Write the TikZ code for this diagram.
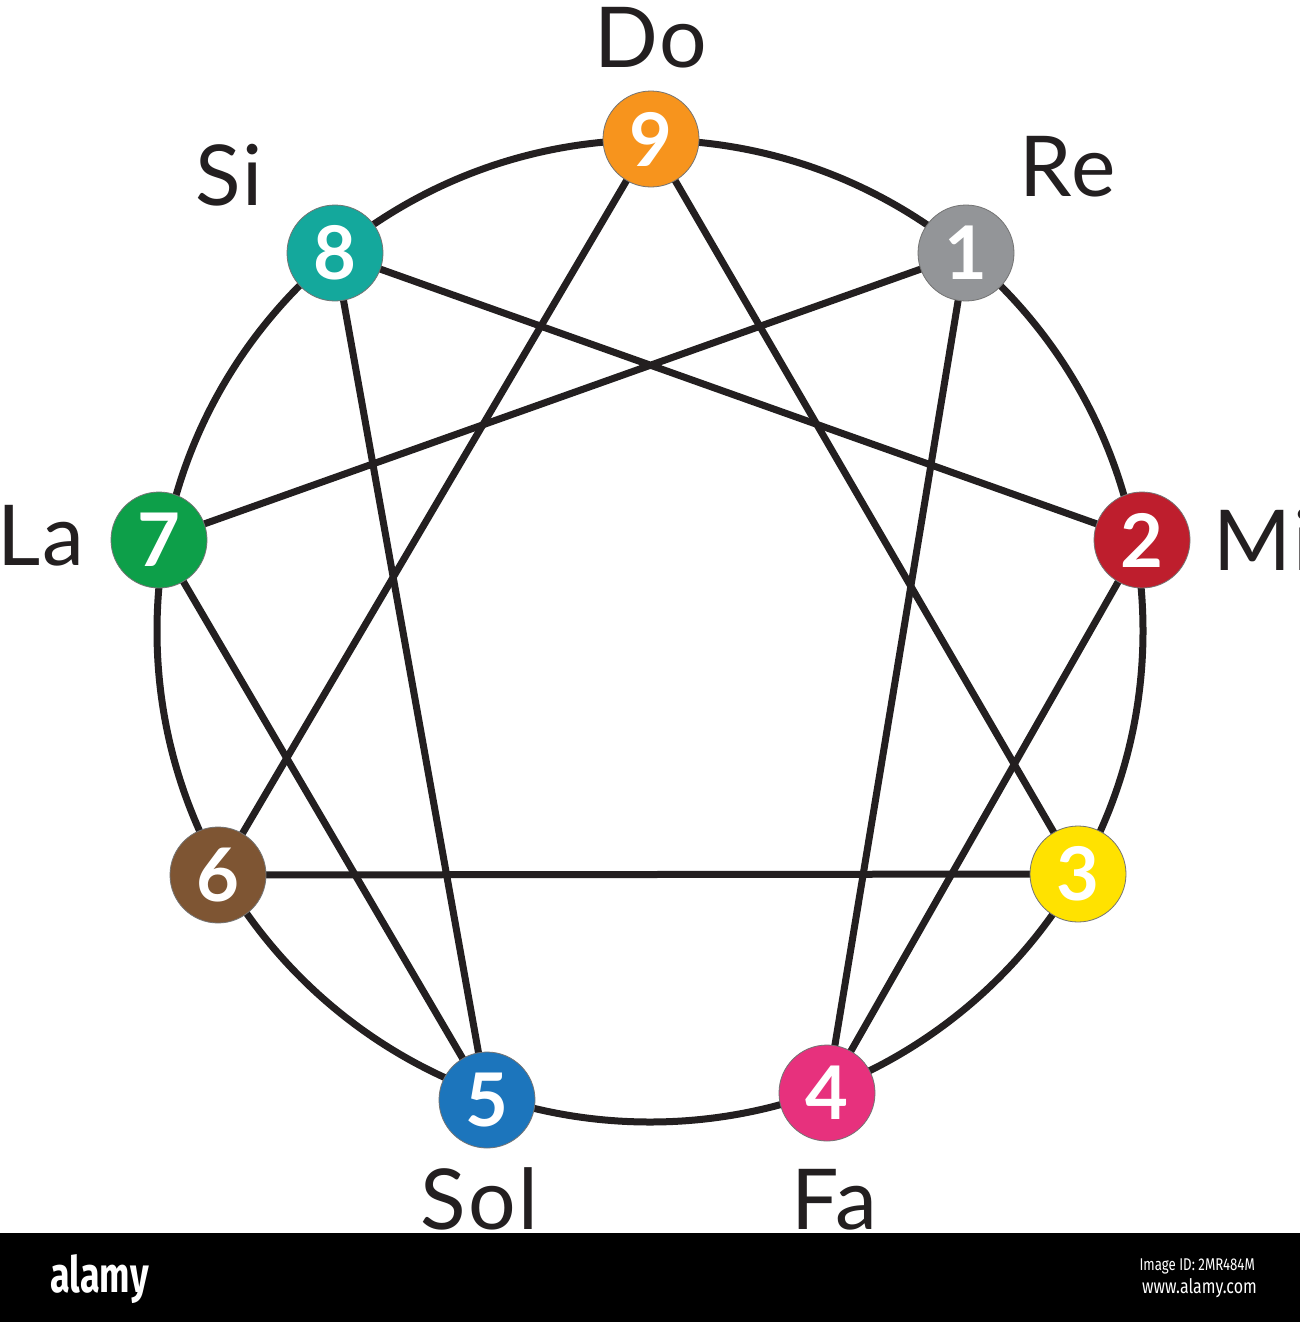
\documentclass[tikz,border=0pt]{standalone}
\usepackage{fontspec}
\usepackage{graphicx}
\setmainfont{Lato}
\newfontfamily\numfont[Scale=1]{Lato}
\newfontfamily\logofont{Fira Sans}
\usetikzlibrary{backgrounds}
\definecolor{ink}{HTML}{231F20}
\definecolor{c9}{HTML}{F7941D}
\definecolor{c1}{HTML}{939598}
\definecolor{c2}{HTML}{BE1E2D}
\definecolor{c3}{HTML}{FFE200}
\definecolor{c4}{HTML}{E7317D}
\definecolor{c5}{HTML}{1C75BC}
\definecolor{c6}{HTML}{7E5533}
\definecolor{c7}{HTML}{0D9F49}
\definecolor{c8}{HTML}{14A89C}
\tikzset{
  num/.style={circle, minimum size=96pt, inner sep=0pt, draw=black!55, line width=0.8pt,
    text=white, font=\numfont\bfseries\fontsize{74}{74}\selectfont},
  link/.style={draw=ink, line width=7pt},
  lab/.style={anchor=base west, inner sep=0pt, text=ink, font=\fontsize{84}{84}\selectfont},
}
\begin{document}
\begin{tikzpicture}[x=1pt,y=-1pt]
\useasboundingbox (0,0) rectangle (1300,1322);
% numbered nodes
\node[num, fill=c9] (n9) at (651,139) {9};
\node[num, fill=c1] (n1) at (966,253) {1};
\node[num, fill=c2] (n2) at (1142,540) {2};
\node[num, fill=c3] (n3) at (1078,874) {3};
\node[num, fill=c4] (n4) at (827,1093) {4};
\node[num, fill=c5] (n5) at (487,1100) {5};
\node[num, fill=c6] (n6) at (218,875) {6};
\node[num, fill=c7] (n7) at (159,540) {7};
\node[num, fill=c8] (n8) at (335,253) {8};
\coordinate (ctr) at (650,631);
\begin{scope}[on background layer]
  \fill[white] (0,0) rectangle (1300,1322);
  \draw[link] (ctr) circle [x radius=493pt, y radius=491pt];
  \draw[link] (n9.center) -- (n3.center) -- (n6.center) -- cycle;
  \draw[link] (n1.center) -- (n4.center) -- (n2.center) -- (n8.center) -- (n5.center) -- (n7.center) -- cycle;
\end{scope}
% note labels
\node[lab, anchor=base] (tDo) at (651,67) {\addfontfeature{LetterSpace=2}Do};
\node[lab] (tRe) at (1019,196) {\addfontfeature{LetterSpace=3}Re};
\node[lab] (tSi) at (195,205) {\addfontfeature{LetterSpace=3}Si};
\node[lab] (tLa) at (-3,565) {\addfontfeature{LetterSpace=3}La};
\node[lab] (tMi) at (1213,570) {\addfontfeature{LetterSpace=3}Mi};
\node[lab] (tSol) at (420,1229) {\addfontfeature{LetterSpace=3}Sol};
\node[lab] (tFa) at (791,1229) {\addfontfeature{LetterSpace=3}Fa};
% bottom banner
\fill[black] (0,1233) rectangle (1300,1322);
\node[anchor=base west, inner sep=0pt, text=white, font=\logofont\bfseries\fontsize{50}{50}\selectfont] (logo) at (50,1292) {\scalebox{0.72}[1]{alamy}};
\node[anchor=base east, inner sep=0pt, text=white, font=\logofont\fontsize{17}{17}\selectfont] (imgid) at (1255,1270) {\scalebox{0.78}[1]{Image ID: 2MR484M}};
\node[anchor=base east, inner sep=0pt, text=white, font=\logofont\fontsize{20}{20}\selectfont] (www) at (1257,1293) {\scalebox{0.8}[1]{www.alamy.com}};
\end{tikzpicture}
\end{document}
